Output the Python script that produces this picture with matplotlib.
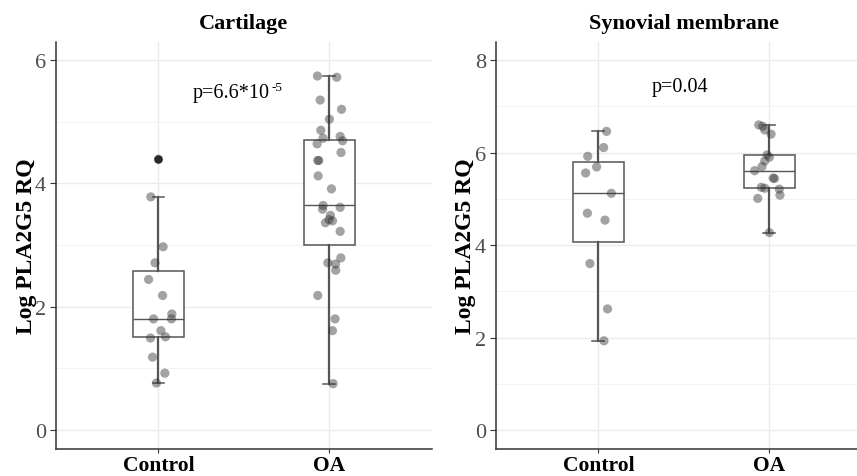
"""
Box plots of log PLA2G5 RQ, control vs OA, cartilage and synovial membrane.
"""
import matplotlib
matplotlib.use("Agg")
import matplotlib.pyplot as plt
from matplotlib.ticker import MultipleLocator

plt.rcParams['font.family'] = ['Liberation Serif', 'DejaVu Serif']

groups = ['Control', 'OA']

# Cartilage values and their jitter offsets
cart_ctrl = [4.39, 3.78, 2.97, 2.71, 2.44, 2.18, 1.88, 1.80, 1.80, 1.61,
             1.49, 1.51, 1.18, 0.92, 0.76]
cart_ctrl_jit = [0.0, -0.045, 0.027, -0.02, -0.058, 0.024, 0.078, -0.029,
                 0.076, 0.014, -0.047, 0.041, -0.035, 0.037, -0.012]
cart_oa = [5.74, 5.72, 5.35, 5.20, 5.04, 4.86, 4.73, 4.76, 4.69, 4.64,
           4.50, 4.37, 4.37, 4.12, 3.91, 3.64, 3.58, 3.61, 3.48, 3.41,
           3.36, 3.39, 3.22, 2.79, 2.71, 2.69, 2.59, 2.18, 1.80, 1.61, 0.75]
cart_oa_jit = [-0.07, 0.043, -0.054, 0.071, 0.0, -0.05, -0.037, 0.063,
               0.077, -0.072, 0.068, -0.068, -0.062, -0.066, 0.012, -0.037,
               -0.04, 0.063, 0.006, -0.002, -0.023, 0.018, 0.063, 0.067,
               -0.009, 0.036, 0.037, -0.068, 0.033, 0.018, 0.022]

# Synovial membrane
syn_ctrl = [6.46, 6.11, 5.92, 5.69, 5.56, 5.12, 4.69, 4.54, 3.60, 2.62, 1.93]
syn_ctrl_jit = [0.048, 0.031, -0.062, -0.01, -0.074, 0.076, -0.064, 0.039,
                -0.049, 0.054, 0.033]
syn_oa = [6.60, 6.57, 6.49, 6.40, 5.95, 5.90, 5.82, 5.70, 5.61, 5.45, 5.44,
          5.25, 5.23, 5.21, 5.08, 5.01, 4.27]
syn_oa_jit = [-0.062, -0.039, -0.027, 0.01, -0.013, 0.0, -0.027, -0.043,
              -0.086, 0.022, 0.03, -0.047, -0.027, 0.058, 0.062, -0.068, 0.0]

panels = [
    dict(title='Cartilage', data=[cart_ctrl, cart_oa], jit=[cart_ctrl_jit, cart_oa_jit],
         ylim=(-0.31, 6.29), yticks=[0, 2, 4, 6], label='p=6.6*10', sup='-5',
         label_xy=(1.2, 5.48), label_ha='left', ylab_x=-0.051,
         rect=[0.0653, 0.0566, 0.4387, 0.853]),
    dict(title='Synovial membrane', data=[syn_ctrl, syn_oa], jit=[syn_ctrl_jit, syn_oa_jit],
         ylim=(-0.41, 8.39), yticks=[0, 2, 4, 6, 8], label='p=0.04', sup=None,
         label_xy=(1.478, 7.44), label_ha='center', ylab_x=-0.053,
         rect=[0.5784, 0.0566, 0.4391, 0.853]),
]

fig = plt.figure(figsize=(8.57, 4.77), dpi=100)

for p in panels:
    ax = fig.add_axes(p['rect'])

    ax.boxplot(p['data'], positions=[1, 2], widths=0.3, whis=1.5,
               patch_artist=True, capwidths=0.07, manage_ticks=False,
               boxprops=dict(facecolor='white', edgecolor='#555555', lw=1.1),
               medianprops=dict(color='#555555', lw=1.0),
               whiskerprops=dict(color='#555555', lw=1.6),
               capprops=dict(color='#555555', lw=1.1),
               flierprops=dict(marker='o', markerfacecolor='#222222',
                               markeredgecolor='none', markersize=6),
               zorder=2)

    for i, (vals, jit) in enumerate(zip(p['data'], p['jit'])):
        xs = [i + 1 + j for j in jit]
        ax.scatter(xs, vals, s=44, color='#333333', alpha=0.45,
                   edgecolors='none', zorder=3)

    ax.set_xlim(0.4, 2.6)
    ax.set_ylim(*p['ylim'])

    # grid, ggplot-ish
    ax.set_yticks(p['yticks'])
    ax.yaxis.set_minor_locator(MultipleLocator(1))
    ax.set_xticks([1, 2])
    ax.grid(True, which='major', color='#ebebeb', lw=1.0, zorder=0)
    ax.grid(True, which='minor', axis='y', color='#f3f3f3', lw=0.8, zorder=0)
    ax.tick_params(which='minor', left=False)
    ax.set_axisbelow(True)

    t = ax.text(p['label_xy'][0], p['label_xy'][1], p['label'], ha=p['label_ha'],
                va='center', fontsize=14.5, color='black')
    if p['sup']:
        ax.annotate(p['sup'], xy=(1.0, 1.0), xycoords=t, xytext=(1, 1),
                    textcoords='offset points', ha='left', va='top',
                    fontsize=9.5, color='black')

    ax.set_title(p['title'], fontsize=16, fontweight='bold', pad=10)
    ax.set_ylabel('Log PLA2G5 RQ', fontsize=17, fontweight='bold')
    ax.yaxis.set_label_coords(p['ylab_x'], 0.5)

    ax.set_xticklabels(groups, fontsize=15.5, fontweight='bold', color='black')
    ax.tick_params(axis='y', labelsize=16, labelcolor='#4d4d4d', length=4,
                   color='#333333', pad=3)
    ax.tick_params(axis='x', length=3, color='#333333', pad=1)

    for side in ['top', 'right']:
        ax.spines[side].set_visible(False)
    for side in ['left', 'bottom']:
        ax.spines[side].set_color('#333333')
        ax.spines[side].set_linewidth(1.1)

fig.savefig('out.png', dpi=100)
